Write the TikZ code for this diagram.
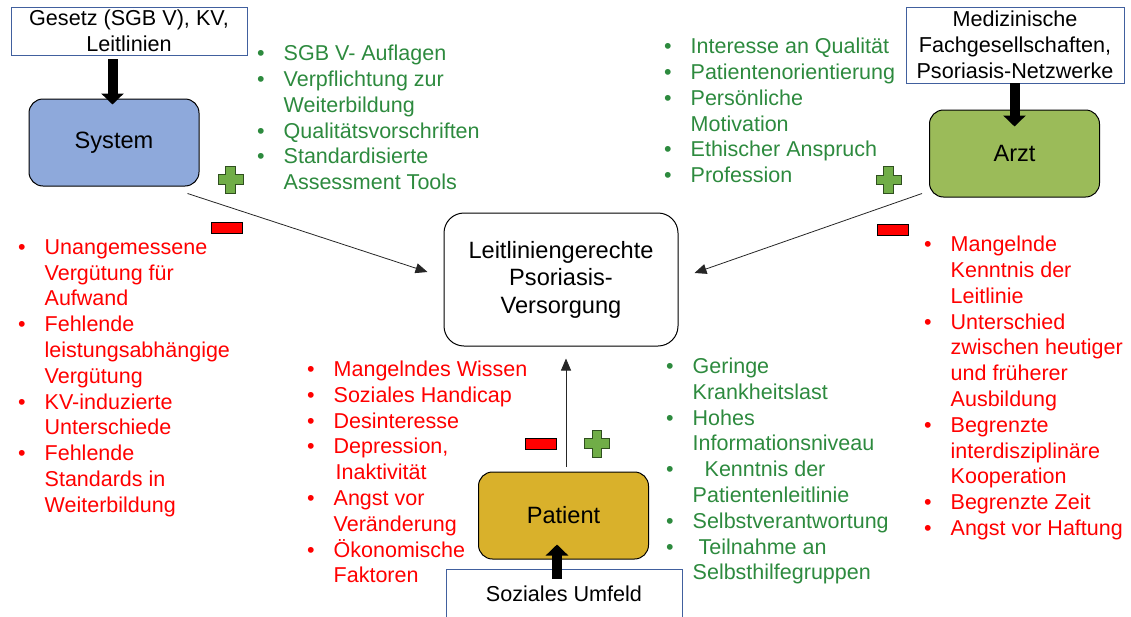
\documentclass[tikz,border=0pt]{standalone}
\usepackage{fontspec}
\setmainfont{Liberation Sans}
\usetikzlibrary{arrows.meta, positioning, calc}
\definecolor{SysBlue}{HTML}{8EA9DB}
\definecolor{ArztGreen}{HTML}{9BBB59}
\definecolor{PatGold}{HTML}{D9B12B}
\definecolor{ProGreen}{HTML}{2D8A3E}
\definecolor{ContraRed}{HTML}{FF0000}
\definecolor{PlusFill}{HTML}{70AD47}
\definecolor{PlusEdge}{HTML}{2F4F1F}
\definecolor{FrameBlue}{HTML}{41609E}
\definecolor{Charcoal}{HTML}{262626}
\newcommand{\itemdot}{\strut\makebox[26.5pt][l]{\textbullet}}
\newcommand{\itemgap}{\strut\hspace*{26.5pt}}
\tikzset{
  plusmark/.pic={
    \draw[fill=PlusFill, draw=PlusEdge, line width=0.9pt]
      (-4.7,-13.5) -- (4.7,-13.5) -- (4.7,-4.7) -- (12.5,-4.7) -- (12.5,4.7) -- (4.7,4.7)
      -- (4.7,13.5) -- (-4.7,13.5) -- (-4.7,4.7) -- (-12.5,4.7) -- (-12.5,-4.7) -- (-4.7,-4.7) -- cycle;
  }
}
\begin{document}
\begin{tikzpicture}[x=1pt, y=-1pt,
  every node/.style={font=\fontsize{21.5}{25.8}\selectfont},
  factor/.style={draw=black, line width=1pt, rounded corners=14pt, minimum width=170pt, minimum height=87pt, inner sep=0pt, font=\fontsize{23.6}{27.5}\selectfont},
  source/.style={draw=FrameBlue, line width=0.9pt, fill=white, align=center, inner sep=0pt, font=\fontsize{21.6}{26}\selectfont},
  goal/.style={draw=black, line width=1pt, fill=white, rounded corners=20pt, minimum width=234pt, minimum height=133pt, align=center, inner sep=0pt, font=\fontsize{23.6}{27.5}\selectfont},
  prolist/.style={text=ProGreen, anchor=north west, align=left, inner sep=0pt},
  contralist/.style={text=ContraRed, anchor=north west, align=left, inner sep=0pt},
  influence/.style={draw=Charcoal, line width=0.8pt, -{Triangle[length=12pt,width=10pt]}},
  push/.style={draw=black, line width=10pt, -{Triangle[length=11pt,width=22pt]}},
  minusmark/.style={draw=black, fill=ContraRed, line width=0.8pt, minimum width=31pt, minimum height=11pt, inner sep=0pt}
]
\useasboundingbox (0,0) rectangle (1131,616);

% central goal
\node[goal] (leitlinie) at (561,279.5) {Leitliniengerechte\\Psoriasis-\\Versorgung};

% three actors
\node[factor, fill=SysBlue] (system) at (114,142.5) {System};
\node[factor, fill=ArztGreen] (arzt) at (1014.5,153.5) {Arzt};
\node[factor, fill=PatGold] (patient) at (563.5,515.5) {Patient};

% outer sources
\node[source, minimum width=236pt, minimum height=48pt] (gesetz) at (129,31) {Gesetz (SGB V), KV,\\Leitlinien};
\node[source, minimum width=218pt, minimum height=76pt] (fach) at (1015,45) {Medizinische\\Fachgesellschaften,\\Psoriasis-Netzwerke};
\node[source, minimum width=236pt, minimum height=50pt] (umfeld) at (564,594) {Soziales Umfeld};

% influences on the goal
\draw[influence] ($(system.south east)+(-12,7)$) -- ($(leitlinie.west)+(-16,-7.5)$);
\draw[influence] ($(arzt.south west)+(-7,-4)$) -- ($(leitlinie.east)+(16,-6.5)$);
\draw[influence] ($(patient.north)+(2.5,-5)$) -- ($(leitlinie.south)+(5,12)$);

% block arrows from the sources
\draw[push] ($(system.north |- gesetz.south)+(-1.5,4)$) -- ($(system.north)+(-1.5,6)$);
\draw[push] (arzt.north |- fach.south) -- ($(arzt.north)+(0,17)$);
\draw[push] ($(umfeld.north)+(-7,10)$) -- ($(patient.south)+(-6.5,-15)$);

% plus and minus signs
\pic at (230.5,179.5) {plusmark};
\pic at (888.5,180) {plusmark};
\pic at (597,443.5) {plusmark};
\node[minusmark] (sysminus) at (226.5,227.5) {};
\node[minusmark] (arztminus) at (892.5,230) {};
\node[minusmark] (patminus) at (541,443.5) {};

% system factors
\node[prolist] (syspro) at (257,42.4) {\itemdot SGB V- Auflagen\\
  \itemdot Verpflichtung zur\\
  \itemgap Weiterbildung\\
  \itemdot Qualitätsvorschriften\\
  \itemdot Standardisierte\\
  \itemgap Assessment Tools};
\node[contralist] (syscontra) at (18,236) {\itemdot Unangemessene\\
  \itemgap Vergütung für\\
  \itemgap Aufwand\\
  \itemdot Fehlende\\
  \itemgap leistungsabhängige\\
  \itemgap Vergütung\\
  \itemdot KV-induzierte\\
  \itemgap Unterschiede\\
  \itemdot Fehlende\\
  \itemgap Standards in\\
  \itemgap Weiterbildung};

% physician factors
\node[prolist] (arztpro) at (664,35.4) {\itemdot Interesse an Qualität\\
  \itemdot Patientenorientierung\\
  \itemdot Persönliche\\
  \itemgap Motivation\\
  \itemdot Ethischer Anspruch\\
  \itemdot Profession};
\node[contralist] (arztcontra) at (924,233.5) {\itemdot Mangelnde\\
  \itemgap Kenntnis der\\
  \itemgap Leitlinie\\
  \itemdot Unterschied\\
  \itemgap zwischen heutiger\\
  \itemgap und früherer\\
  \itemgap Ausbildung\\
  \itemdot Begrenzte\\
  \itemgap interdisziplinäre\\
  \itemgap Kooperation\\
  \itemdot Begrenzte Zeit\\
  \itemdot Angst vor Haftung};

% patient factors
\node[contralist] (patcontra) at (307,358.2) {\itemdot Mangelndes Wissen\\
  \itemdot Soziales Handicap\\
  \itemdot Desinteresse\\
  \itemdot Depression,\\
  \itemgap\hspace*{2pt}Inaktivität\\
  \itemdot Angst vor\\
  \itemgap Veränderung\\
  \itemdot Ökonomische\\
  \itemgap Faktoren};
\node[prolist] (patpro) at (666,355.2) {\itemdot Geringe\\
  \itemgap Krankheitslast\\
  \itemdot Hohes\\
  \itemgap Informationsniveau\\
  \itemdot\hspace*{12pt}Kenntnis der\\
  \itemgap Patientenleitlinie\\
  \itemdot Selbstverantwortung\\
  \itemdot\hspace*{6pt}Teilnahme an\\
  \itemgap Selbsthilfegruppen};
\end{tikzpicture}
\end{document}
